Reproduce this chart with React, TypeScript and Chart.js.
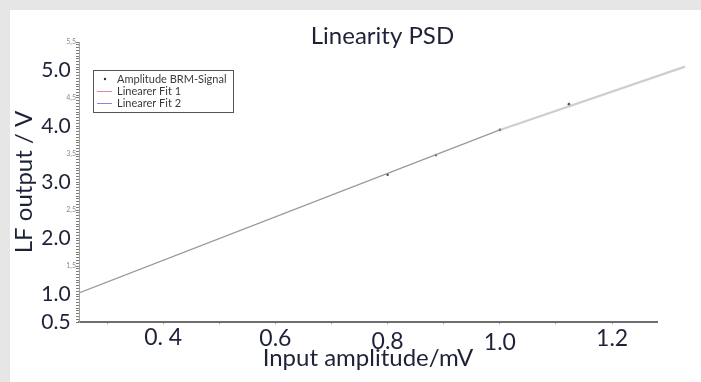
import React, { useEffect, useRef } from 'react';
import { Chart, registerables } from 'chart.js';

Chart.register(...registerables);

// ---- text ----
const TITLE = 'Linearity PSD';
const X_TITLE = 'Input amplitude/mV';
const Y_TITLE = 'LF output / V';

// ---- axes ----
const X_MIN = 0.25;
const X_MAX = 1.28;
const Y_MIN = 0.5;
const Y_MAX = 5.5;
const xTickValues = [0.4, 0.6, 0.8, 1.0, 1.2];
const xTickLabels = ['0. 4', '0.6', '0.8', '1.0', '1.2'];
const xTickDrops = [0, 1, 4, 5, 1];
const yMajorValues = [0.5, 1, 2, 3, 4, 5];
const yMajorLabels = ['0.5', '1.0', '2.0', '3.0', '4.0', '5.0'];
const yMinorValues = [1.5, 2.5, 3.5, 4.5, 5.5];
const yMinorLabels = ['1,5', '2,5', '3,5', '4,5', '5,5'];

// ---- data ----
const signalX = [0.8, 0.886, 1.0, 1.123];
const signalY = [3.13, 3.48, 3.93, 4.39];
const fit1X = [0.25, 1.0];
const fit1Y = [1.02, 3.93];
const fit2X = [1.0, 1.33];
const fit2Y = [3.93, 5.06];

// ---- legend ----
const legendLabels = ['Amplitude BRM-Signal', 'Linearer Fit 1', 'Linearer Fit 2'];
const legendColors = ['#333333', '#e5889a', '#8a86e0'];

const FONT = 'Lato, "Open Sans", sans-serif';
const TEXT_COLOR = '#1e2238';

const findIdx = (arr: number[], v: number) => arr.findIndex((a) => Math.abs(a - v) < 1e-6);

const overlayPlugin = {
  id: 'overlay',
  afterDraw(chart: any) {
    const { ctx, chartArea: a } = chart;
    ctx.save();
    // title
    ctx.font = `24px ${FONT}`;
    ctx.fillStyle = TEXT_COLOR;
    ctx.textAlign = 'center';
    ctx.textBaseline = 'alphabetic';
    ctx.fillText(TITLE, a.left + (a.right - a.left) * 0.525, a.top + 2);
    // legend box
    const lx = a.left + 14;
    const ly = a.top + 28;
    ctx.fillStyle = '#ffffff';
    ctx.fillRect(lx, ly, 140, 42);
    ctx.strokeStyle = '#555555';
    ctx.lineWidth = 1;
    ctx.strokeRect(lx + 0.5, ly + 0.5, 140, 42);
    ctx.font = `11px ${FONT}`;
    ctx.textAlign = 'left';
    ctx.textBaseline = 'middle';
    legendLabels.forEach((label, i) => {
      const ry = ly + 9 + i * 12;
      if (i === 0) {
        ctx.fillStyle = legendColors[i];
        ctx.beginPath();
        ctx.arc(lx + 12, ry, 1.2, 0, Math.PI * 2);
        ctx.fill();
      } else {
        ctx.strokeStyle = legendColors[i];
        ctx.lineWidth = 1;
        ctx.beginPath();
        ctx.moveTo(lx + 4, ry + 0.5);
        ctx.lineTo(lx + 19, ry + 0.5);
        ctx.stroke();
      }
      ctx.fillStyle = '#3a3a3a';
      ctx.fillText(label, lx + 24, ry);
    });
    ctx.restore();
  },
};

export default function App() {
  const ref = useRef<HTMLCanvasElement | null>(null);

  useEffect(() => {
    if (!ref.current) return;
    const chart = new Chart(ref.current, {
      type: 'scatter',
      data: {
        datasets: [
          {
            label: legendLabels[1],
            data: fit1X.map((x, i) => ({ x, y: fit1Y[i] })),
            showLine: true,
            borderColor: '#999999',
            borderWidth: 1.2,
            pointRadius: 0,
          },
          {
            label: legendLabels[2],
            data: fit2X.map((x, i) => ({ x, y: fit2Y[i] })),
            showLine: true,
            borderColor: 'rgba(165,165,165,0.55)',
            borderWidth: 2.2,
            pointRadius: 0,
            clip: false,
          },
          {
            label: legendLabels[0],
            data: signalX.map((x, i) => ({ x, y: signalY[i] })),
            showLine: false,
            pointRadius: 1.3,
            pointBackgroundColor: '#555555',
            pointBorderWidth: 0,
          },
        ],
      } as any,
      options: {
        responsive: false,
        animation: false,
        events: [],
        layout: { padding: { left: 0, top: 32, right: 44, bottom: 0 } },
        plugins: {
          legend: { display: false },
          title: { display: false },
          tooltip: { enabled: false },
        },
        scales: {
          x: {
            type: 'linear',
            min: X_MIN,
            max: X_MAX,
            afterFit: (s: any) => {
              s.height = 60;
            },
            border: { display: true, color: '#6e6e6e', width: 2 },
            grid: {
              display: true,
              drawOnChartArea: false,
              drawTicks: true,
              tickLength: 2,
              color: '#9a9a9a',
            },
            ticks: {
              stepSize: 0.1,
              autoSkip: false,
              includeBounds: false,
              maxRotation: 0,
              minRotation: 0,
              padding: 1.5,
              color: TEXT_COLOR,
              font: (c: any) => {
                const i = findIdx(xTickValues, c.tick ? c.tick.value : NaN);
                const drop = i >= 0 ? xTickDrops[i] : 0;
                return { family: FONT, size: 23, lineHeight: `${((12 + drop) / 1.5).toFixed(2)}px` };
              },
              callback: (v: any) => {
                const i = findIdx(xTickValues, Number(v));
                return i >= 0 ? ['', xTickLabels[i]] : '';
              },
            },
            title: {
              display: true,
              text: X_TITLE,
              color: TEXT_COLOR,
              font: { family: FONT, size: 24 },
              padding: { top: 0, bottom: 9 },
            },
          },
          y: {
            type: 'linear',
            min: Y_MIN,
            max: Y_MAX,
            afterFit: (s: any) => {
              s.width = 69;
            },
            border: { display: true, color: '#a0a0a0', width: 1 },
            grid: {
              display: true,
              drawOnChartArea: false,
              drawTicks: true,
              tickLength: 3,
              color: '#7a7a7a',
            },
            ticks: {
              stepSize: 0.05,
              autoSkip: false,
              padding: 0,
              color: (c: any) => {
                const v = c.tick ? c.tick.value : NaN;
                return findIdx(yMinorValues, v) >= 0 ? '#8a8a8a' : TEXT_COLOR;
              },
              font: (c: any) => {
                const v = c.tick ? c.tick.value : NaN;
                return findIdx(yMinorValues, v) >= 0
                  ? { family: FONT, size: 7 }
                  : { family: FONT, size: 21 };
              },
              callback: (v: any) => {
                const n = Number(v);
                const i = findIdx(yMajorValues, n);
                if (i >= 0) return yMajorLabels[i] + ' ';
                const j = findIdx(yMinorValues, n);
                if (j >= 0) return yMinorLabels[j];
                return '';
              },
            },
            title: {
              display: true,
              text: Y_TITLE,
              color: TEXT_COLOR,
              font: { family: FONT, size: 24 },
              padding: { top: 0, bottom: 0 },
            },
          },
        },
      } as any,
      plugins: [overlayPlugin],
    });
    return () => chart.destroy();
  }, []);

  return (
    <div
      style={{
        position: 'absolute',
        left: 0,
        top: 0,
        width: 701,
        height: 382,
        background: '#e6e6e6',
        overflow: 'hidden',
      }}
    >
      <div
        style={{
          position: 'absolute',
          left: 10,
          top: 10,
          width: 691,
          height: 372,
          background: '#ffffff',
        }}
      >
        <canvas ref={ref} width={691} height={372} style={{ display: 'block' }} />
      </div>
    </div>
  );
}
